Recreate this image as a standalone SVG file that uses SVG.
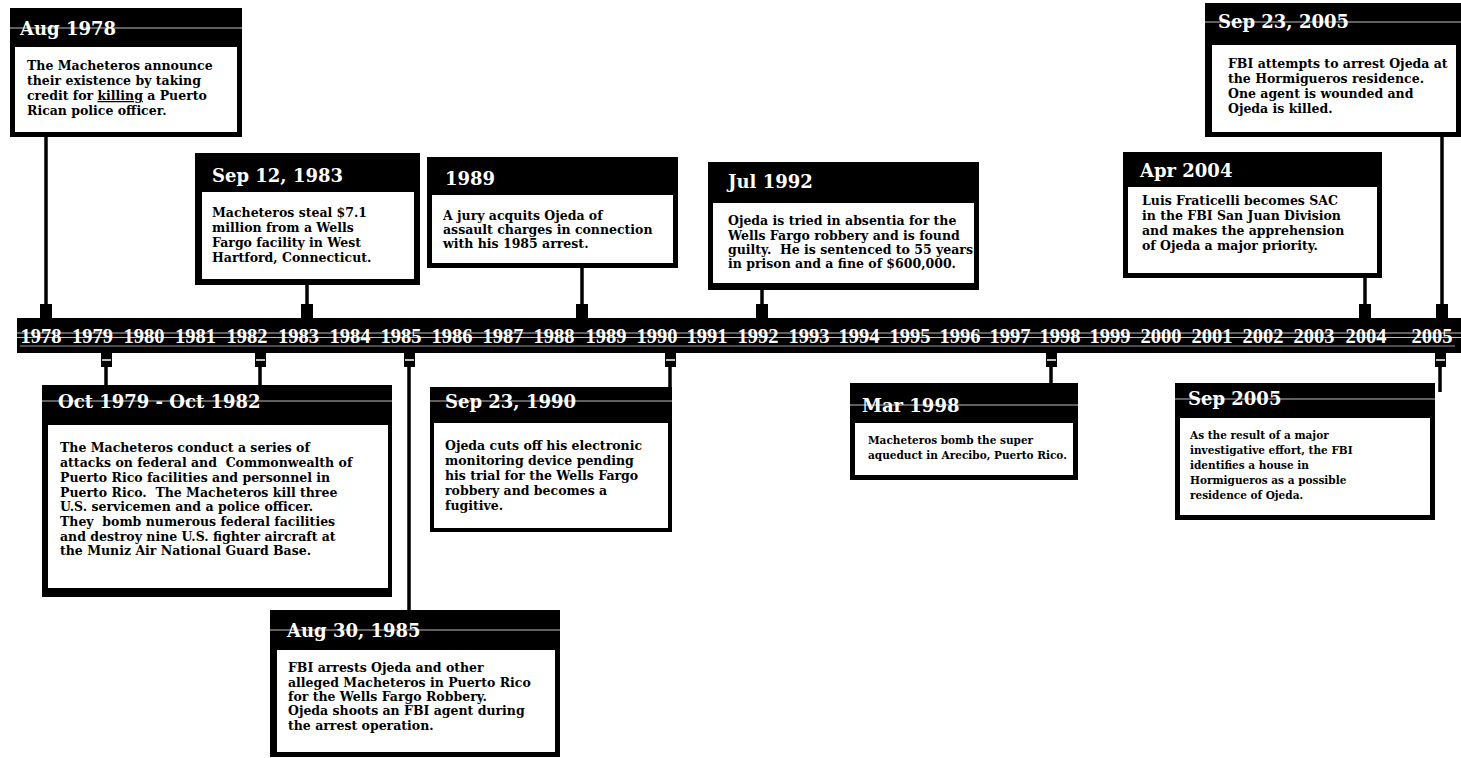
<svg xmlns="http://www.w3.org/2000/svg" width="1461" height="758" viewBox="0 0 1461 758">
<style>
.frame{fill:#000}
.body{fill:#fff}
.scan{stroke:#fff;stroke-width:1;opacity:0.75}
.title{font-family:"DejaVu Serif","Liberation Serif",serif;font-weight:bold;font-size:18px;fill:#fff}
.txt{font-family:"DejaVu Serif","Liberation Serif",serif;font-weight:bold;font-size:12.5px;fill:#000;white-space:pre}
.sm{font-size:10.5px}
.year{font-family:"Liberation Serif","DejaVu Serif",serif;font-weight:bold;font-size:20.5px;fill:#fff;text-anchor:middle}
.stem{stroke:#000;stroke-width:3.5}
.joint{fill:#000}
.dash{stroke:#fff;stroke-width:1.5}
</style>
<rect width="1461" height="758" fill="#fff"/>

<g id="connectors">
  <line class="stem" x1="46" y1="137" x2="46" y2="318"/><rect class="joint" x="40" y="304" width="12" height="15"/>
  <line class="stem" x1="307" y1="285" x2="307" y2="318"/><rect class="joint" x="301" y="304" width="12" height="15"/>
  <line class="stem" x1="582" y1="268" x2="582" y2="318"/><rect class="joint" x="576" y="304" width="12" height="15"/>
  <line class="stem" x1="762" y1="290" x2="762" y2="318"/><rect class="joint" x="756" y="304" width="12" height="15"/>
  <line class="stem" x1="1365" y1="278" x2="1365" y2="318"/><rect class="joint" x="1359" y="304" width="12" height="15"/>
  <line class="stem" x1="1442" y1="137" x2="1442" y2="318"/><rect class="joint" x="1436" y="304" width="12" height="15"/>

  <line class="stem" x1="106" y1="352" x2="106" y2="385"/><rect class="joint" x="101" y="352" width="11" height="15"/><line class="dash" x1="102" y1="360" x2="111" y2="360"/>
  <line class="stem" x1="260" y1="352" x2="260" y2="385"/><rect class="joint" x="255" y="352" width="11" height="15"/><line class="dash" x1="256" y1="360" x2="265" y2="360"/>
  <line class="stem" x1="409" y1="352" x2="409" y2="610"/><rect class="joint" x="404" y="352" width="11" height="15"/><line class="dash" x1="405" y1="360" x2="414" y2="360"/>
  <line class="stem" x1="670" y1="352" x2="670" y2="388"/><rect class="joint" x="665" y="352" width="11" height="15"/><line class="dash" x1="666" y1="360" x2="675" y2="360"/>
  <line class="stem" x1="1051" y1="352" x2="1051" y2="383"/><rect class="joint" x="1046" y="352" width="11" height="15"/><line class="dash" x1="1047" y1="360" x2="1056" y2="360"/>
  <line class="stem" x1="1440" y1="352" x2="1440" y2="392"/><rect class="joint" x="1435" y="352" width="11" height="15"/><line class="dash" x1="1436" y1="360" x2="1445" y2="360"/>
</g>

<g id="timeline">
  <rect class="frame" x="17" y="318" width="1444" height="35"/>
  <line class="scan" x1="17" y1="333" x2="1461" y2="333"/>
  <line class="scan" x1="17" y1="337.5" x2="1461" y2="337.5"/>
  <line class="scan" x1="20" y1="346" x2="1455" y2="346" style="opacity:0.6"/>
  <text class="year" x="41" y="343">1978</text>
  <text class="year" x="92.5" y="343">1979</text>
  <text class="year" x="144" y="343">1980</text>
  <text class="year" x="195.5" y="343">1981</text>
  <text class="year" x="247" y="343">1982</text>
  <text class="year" x="298.5" y="343">1983</text>
  <text class="year" x="350" y="343">1984</text>
  <text class="year" x="401" y="343">1985</text>
  <text class="year" x="452" y="343">1986</text>
  <text class="year" x="503" y="343">1987</text>
  <text class="year" x="554" y="343">1988</text>
  <text class="year" x="606" y="343">1989</text>
  <text class="year" x="657" y="343">1990</text>
  <text class="year" x="707" y="343">1991</text>
  <text class="year" x="758" y="343">1992</text>
  <text class="year" x="809" y="343">1993</text>
  <text class="year" x="859" y="343">1994</text>
  <text class="year" x="910" y="343">1995</text>
  <text class="year" x="960" y="343">1996</text>
  <text class="year" x="1010" y="343">1997</text>
  <text class="year" x="1060" y="343">1998</text>
  <text class="year" x="1110" y="343">1999</text>
  <text class="year" x="1161" y="343">2000</text>
  <text class="year" x="1212" y="343">2001</text>
  <text class="year" x="1263" y="343">2002</text>
  <text class="year" x="1314" y="343">2003</text>
  <text class="year" x="1366" y="343">2004</text>
  <text class="year" x="1432" y="343">2005</text>
</g>

<g id="n-aug1978">
  <rect class="frame" x="10" y="8" width="232" height="129"/>
  <line class="scan" x1="10" y1="28" x2="242" y2="28"/>
  <rect class="body" x="15" y="47" width="222" height="85"/>
  <text class="title" x="20" y="35">Aug 1978</text>
  <text class="txt" x="27" y="70">The Macheteros announce</text>
  <text class="txt" x="27" y="85">their existence by taking</text>
  <text class="txt" x="27" y="100">credit for <tspan text-decoration="underline">killing</tspan> a Puerto</text>
  <text class="txt" x="27" y="115">Rican police officer.</text>
</g>

<g id="n-sep1983">
  <rect class="frame" x="195" y="153" width="225" height="132"/>
  <rect class="body" x="202" y="192" width="212" height="87"/>
  <text class="title" x="212" y="182">Sep 12, 1983</text>
  <text class="txt" x="212" y="217">Macheteros steal $7.1</text>
  <text class="txt" x="212" y="232">million from a Wells</text>
  <text class="txt" x="212" y="247">Fargo facility in West</text>
  <text class="txt" x="212" y="262">Hartford, Connecticut.</text>
</g>

<g id="n-1989">
  <rect class="frame" x="427" y="157" width="251" height="111"/>
  <rect class="body" x="432" y="195" width="241" height="68"/>
  <text class="title" x="445" y="185">1989</text>
  <text class="txt" x="443" y="220">A jury acquits Ojeda of</text>
  <text class="txt" x="443" y="234">assault charges in connection</text>
  <text class="txt" x="443" y="248">with his 1985 arrest.</text>
</g>

<g id="n-jul1992">
  <rect class="frame" x="708" y="162" width="271" height="128"/>
  <rect class="body" x="713" y="203" width="261" height="80"/>
  <text class="title" x="728" y="188">Jul 1992</text>
  <text class="txt" x="728" y="225">Ojeda is tried in absentia for the</text>
  <text class="txt" x="728" y="240">Wells Fargo robbery and is found</text>
  <text class="txt" x="728" y="254">guilty.  He is sentenced to 55 years</text>
  <text class="txt" x="728" y="268">in prison and a fine of $600,000.</text>
</g>

<g id="n-apr2004">
  <rect class="frame" x="1123" y="152" width="259" height="126"/>
  <rect class="body" x="1128" y="187" width="249" height="86"/>
  <text class="title" x="1140" y="177">Apr 2004</text>
  <text class="txt" x="1142" y="205">Luis Fraticelli becomes SAC</text>
  <text class="txt" x="1142" y="220">in the FBI San Juan Division</text>
  <text class="txt" x="1142" y="235">and makes the apprehension</text>
  <text class="txt" x="1142" y="250">of Ojeda a major priority.</text>
</g>

<g id="n-sep2005b">
  <rect class="frame" x="1205" y="3" width="256" height="134"/>
  <line class="scan" x1="1205" y1="22" x2="1461" y2="22"/>
  <rect class="body" x="1212" y="45" width="244" height="87"/>
  <text class="title" x="1218" y="28">Sep 23, 2005</text>
  <text class="txt" x="1228" y="68">FBI attempts to arrest Ojeda at</text>
  <text class="txt" x="1228" y="83">the Hormigueros residence.</text>
  <text class="txt" x="1228" y="98">One agent is wounded and</text>
  <text class="txt" x="1228" y="113">Ojeda is killed.</text>
</g>

<g id="n-oct1979">
  <rect class="frame" x="42" y="385" width="350" height="212"/>
  <line class="scan" x1="42" y1="401" x2="392" y2="401"/>
  <rect class="body" x="48" y="425" width="340" height="163"/>
  <text class="title" x="58" y="408">Oct 1979 - Oct 1982</text>
  <text class="txt" x="60" y="452">The Macheteros conduct a series of</text>
  <text class="txt" x="60" y="467">attacks on federal and  Commonwealth of</text>
  <text class="txt" x="60" y="482">Puerto Rico facilities and personnel in</text>
  <text class="txt" x="60" y="497">Puerto Rico.  The Macheteros kill three</text>
  <text class="txt" x="60" y="511">U.S. servicemen and a police officer.</text>
  <text class="txt" x="60" y="526">They  bomb numerous federal facilities</text>
  <text class="txt" x="60" y="541">and destroy nine U.S. fighter aircraft at</text>
  <text class="txt" x="60" y="555">the Muniz Air National Guard Base.</text>
</g>

<g id="n-aug1985">
  <rect class="frame" x="270" y="610" width="290" height="147"/>
  <line class="scan" x1="270" y1="630" x2="560" y2="630"/>
  <rect class="body" x="277" y="650" width="278" height="102"/>
  <text class="title" x="287" y="637">Aug 30, 1985</text>
  <text class="txt" x="288" y="672">FBI arrests Ojeda and other</text>
  <text class="txt" x="288" y="687">alleged Macheteros in Puerto Rico</text>
  <text class="txt" x="288" y="701">for the Wells Fargo Robbery.</text>
  <text class="txt" x="288" y="715">Ojeda shoots an FBI agent during</text>
  <text class="txt" x="288" y="730">the arrest operation.</text>
</g>

<g id="n-sep1990">
  <rect class="frame" x="430" y="387" width="242" height="145"/>
  <line class="scan" x1="430" y1="401" x2="672" y2="401"/>
  <rect class="body" x="434" y="423" width="234" height="105"/>
  <text class="title" x="445" y="408">Sep 23, 1990</text>
  <text class="txt" x="445" y="450">Ojeda cuts off his electronic</text>
  <text class="txt" x="445" y="465">monitoring device pending</text>
  <text class="txt" x="445" y="480">his trial for the Wells Fargo</text>
  <text class="txt" x="445" y="495">robbery and becomes a</text>
  <text class="txt" x="445" y="510">fugitive.</text>
</g>

<g id="n-mar1998">
  <rect class="frame" x="850" y="383" width="228" height="97"/>
  <line class="scan" x1="850" y1="405" x2="1078" y2="405"/>
  <rect class="body" x="855" y="423" width="218" height="52"/>
  <text class="title" x="862" y="412">Mar 1998</text>
  <text class="txt sm" x="868" y="444">Macheteros bomb the super</text>
  <text class="txt sm" x="868" y="459">aqueduct in Arecibo, Puerto Rico.</text>
</g>

<g id="n-sep2005a">
  <rect class="frame" x="1175" y="383" width="260" height="137"/>
  <line class="scan" x1="1175" y1="399" x2="1435" y2="399"/>
  <rect class="body" x="1180" y="418" width="250" height="97"/>
  <text class="title" x="1188" y="405">Sep 2005</text>
  <text class="txt sm" x="1190" y="439">As the result of a major</text>
  <text class="txt sm" x="1190" y="454">investigative effort, the FBI</text>
  <text class="txt sm" x="1190" y="469">identifies a house in</text>
  <text class="txt sm" x="1190" y="484">Hormigueros as a possible</text>
  <text class="txt sm" x="1190" y="499">residence of Ojeda.</text>
</g>
</svg>
